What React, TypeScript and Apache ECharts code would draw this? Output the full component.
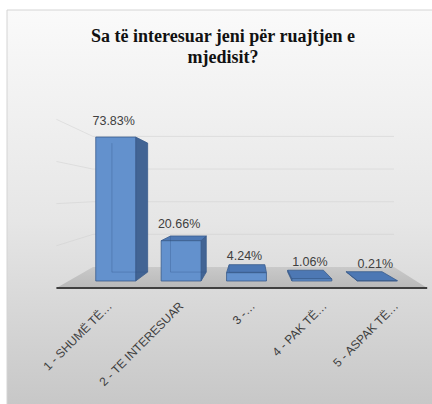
import React, { useEffect, useRef } from "react";
import * as echarts from "echarts";

const categories = ["1 - SHUMË TË…", "2 - TE INTERESUAR", "3 -…", "4 - PAK TË…", "5 - ASPAK TË…"];
const percentages = [73.83, 20.66, 4.24, 1.06, 0.21];
const wallTicks = [20, 40, 60, 80];
const yMax = 80;
const titleText = "Sa të interesuar jeni për ruajtjen e\nmjedisit?";

const BAR_BACK = 0.896;
const FLOOR_FRONT = 1.081;
const FLOOR_BACK = 0.837;

const FRONT = "#6391cd";
const SIDE = "#426494";
const TOP = "#4d78b4";
const EDGE = "#3a5c8c";
const LABEL = "#404040";
const SANS = "Liberation Sans, Arial, sans-serif";
const SERIF = "Liberation Serif, DejaVu Serif, Times New Roman, serif";

function vanish(cs: any): number[] {
  return [cs.x + cs.width * 0.514, cs.y + cs.height * 0.45];
}
function proj(p: number[], v: number[], s: number): number[] {
  return [v[0] + (p[0] - v[0]) * s, v[1] + (p[1] - v[1]) * s];
}

export default function App() {
  const ref = useRef<HTMLDivElement>(null);
  useEffect(() => {
    if (!ref.current) return;
    const chart = echarts.init(ref.current, null, { renderer: "svg" });
    const barData = percentages.map((v, i) => [i, v]);

    const option: any = {
      animation: false,
      graphic: {
        elements: [
          {
            type: "rect",
            z: -100,
            shape: { x: 7, y: 10, width: 440, height: 420 },
            style: {
              fill: new echarts.graphic.LinearGradient(0, 0, 0, 1, [
                { offset: 0, color: "#fafafa" },
                { offset: 0.5, color: "#e6e6e6" },
                { offset: 1, color: "#c3c3c3" },
              ]),
              stroke: "#d4d4d4",
              lineWidth: 1,
            },
          },
          {
            type: "text",
            z: 10,
            x: 223,
            y: 25,
            style: {
              text: titleText,
              align: "center",
              verticalAlign: "top",
              fontFamily: SERIF,
              fontWeight: "bold",
              fontSize: 18,
              lineHeight: 21,
              fill: "#111111",
            },
          },
        ],
      },
      grid: [
        { left: 83, right: 22, top: 125, bottom: 123 },
        { left: 74, right: 0, top: 200, bottom: 116 },
      ],
      xAxis: [
        { type: "category", gridIndex: 0, data: categories, show: false },
        {
          type: "category",
          gridIndex: 1,
          data: categories,
          axisLine: { show: false },
          axisTick: { show: false },
          axisLabel: {
            interval: 0,
            rotate: 45,
            margin: 16,
            fontSize: 12,
            color: LABEL,
            fontFamily: SANS,
          },
          splitLine: { show: false },
        },
      ],
      yAxis: [
        { type: "value", gridIndex: 0, min: 0, max: yMax, show: false, splitLine: { show: false } },
        { type: "value", gridIndex: 1, show: false, splitLine: { show: false } },
      ],
      series: [
        {
          type: "custom",
          xAxisIndex: 0,
          yAxisIndex: 0,
          z: 1,
          silent: true,
          clip: false,
          data: [[0, 0]],
          renderItem: (params: any, api: any) => {
            const cs = params.coordSys;
            const v = vanish(cs);
            const by = cs.y + cs.height;
            const leftX = cs.x;
            const rightX = cs.x + cs.width;
            const fl = proj([leftX - 12, by], v, FLOOR_FRONT);
            const fr = proj([rightX + 4, by], v, FLOOR_FRONT);
            const bl = [leftX + 10, proj([leftX, by], v, FLOOR_BACK)[1]];
            const br = [rightX - 16, proj([rightX, by], v, FLOOR_BACK)[1]];
            const children: any[] = [
              {
                type: "polygon",
                shape: { points: [bl, br, fr, fl] },
                style: {
                  fill: new echarts.graphic.LinearGradient(0, 0, 0, 1, [
                    { offset: 0, color: "#c9c9c9" },
                    { offset: 1, color: "#b9b9b9" },
                  ]),
                  stroke: "none",
                },
              },
              {
                type: "line",
                shape: { x1: fl[0], y1: fl[1], x2: fr[0], y2: fr[1] },
                style: { stroke: "#3f3f3f", lineWidth: 2 },
              },
            ];
            wallTicks.forEach((t) => {
              const y = api.coord([0, t])[1];
              const yBack = proj([0, y], v, FLOOR_BACK)[1];
              const yFront = proj([0, y], v, FLOOR_FRONT)[1];
              children.push({
                type: "polyline",
                shape: { points: [[fl[0], yFront], [bl[0], yBack], [br[0], yBack]] },
                style: { stroke: "rgba(205,205,205,0.45)", lineWidth: 1, fill: "none" },
              });
            });
            return { type: "group", children };
          },
        },
        {
          type: "custom",
          xAxisIndex: 0,
          yAxisIndex: 0,
          z: 3,
          clip: false,
          data: barData,
          renderItem: (params: any, api: any) => {
            const cs = params.coordSys;
            const v = vanish(cs);
            const idx = api.value(0);
            const val = api.value(1);
            const top = api.coord([idx, val]);
            const base = api.coord([idx, 0]);
            const bw = api.size([1, 0])[0] * 0.61;
            const x0 = top[0] - bw / 2;
            const x1 = top[0] + bw / 2;
            const yt = top[1];
            const yb = base[1];
            const F = { tl: [x0, yt], tr: [x1, yt], br: [x1, yb], bl: [x0, yb] };
            const B = {
              tl: proj(F.tl, v, BAR_BACK),
              tr: proj(F.tr, v, BAR_BACK),
              br: proj(F.br, v, BAR_BACK),
              bl: proj(F.bl, v, BAR_BACK),
            };
            const faceStyle = (fill: string) => ({ fill, stroke: EDGE, lineWidth: 0.8, lineJoin: "round" });
            const children: any[] = [];
            if (x1 < v[0]) {
              children.push({ type: "polygon", shape: { points: [F.tr, B.tr, B.br, F.br] }, style: faceStyle(SIDE) });
            }
            if (x0 > v[0]) {
              children.push({ type: "polygon", shape: { points: [F.tl, B.tl, B.bl, F.bl] }, style: faceStyle(SIDE) });
            }
            if (yt > v[1]) {
              children.push({ type: "polygon", shape: { points: [F.tl, F.tr, B.tr, B.tl] }, style: faceStyle(TOP) });
            }
            children.push({ type: "polygon", shape: { points: [F.tl, F.tr, F.br, F.bl] }, style: faceStyle(FRONT) });
            if (yt < yb - 6) {
              children.push({
                type: "polyline",
                shape: { points: [B.tl, B.bl, B.br] },
                style: { stroke: "rgba(45,80,130,0.3)", lineWidth: 1, fill: "none" },
              });
            }
            children.push({
              type: "text",
              style: {
                text: val.toFixed(2) + "%",
                x: top[0] - 2,
                y: yt - 10,
                align: "center",
                verticalAlign: "bottom",
                fontSize: 12.5,
                fontFamily: SANS,
                fill: LABEL,
              },
            });
            return { type: "group", children };
          },
        },
      ],
    };
    chart.setOption(option);
    return () => chart.dispose();
  }, []);
  return (
    <div
      ref={ref}
      style={{ position: "absolute", left: 0, top: 0, width: 432, height: 404 }}
    />
  );
}
